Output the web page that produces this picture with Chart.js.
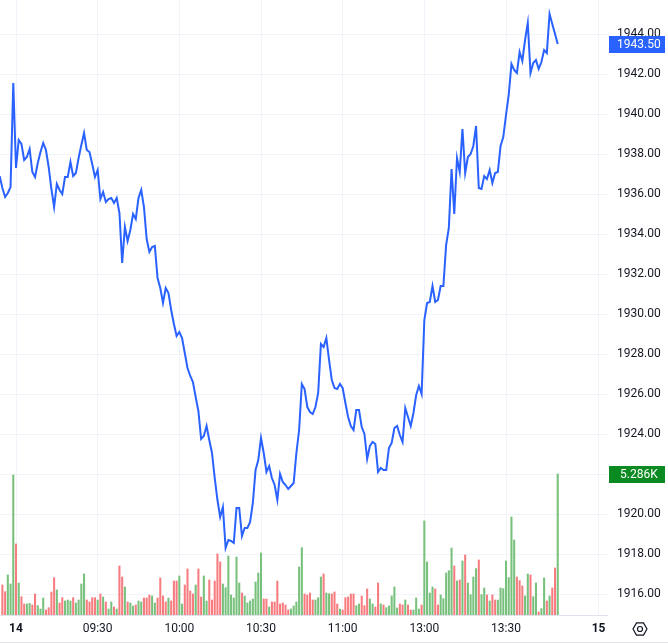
<!DOCTYPE html>
<html>
<head>
<meta charset="utf-8">
<script src="https://cdn.jsdelivr.net/npm/chart.js@4.4.1/dist/chart.umd.min.js"></script>
<style>
  html, body { margin: 0; padding: 0; background: #ffffff; }
  #wrap { width: 668px; height: 644px; position: relative; }
</style>
</head>
<body>
<div id="wrap"><canvas id="priceChart"></canvas></div>
<script>
// one value per minute bar
const prices = [
  1936.9, 1936.3, 1935.85, 1936.05, 1936.35, 1941.55, 1937.3, 1938.7, 1938.5, 1937.7,
  1937.85, 1938.25, 1937.1, 1936.85, 1937.55, 1938.1, 1938.55, 1938.2, 1937.35, 1936.25,
  1935.35, 1936.5, 1936.2, 1936.0, 1936.85, 1936.85, 1937.6, 1936.9, 1937.05, 1937.8,
  1938.45, 1939.05, 1938.2, 1938.1, 1937.5, 1936.85, 1937.2, 1935.75, 1936.1, 1935.6,
  1935.75, 1935.8, 1935.55, 1935.8, 1935.05, 1932.55, 1934.35, 1933.65, 1934.2, 1935.0,
  1934.75, 1935.8, 1936.2, 1935.35, 1933.75, 1933.1, 1933.35, 1933.4, 1931.8, 1931.3,
  1930.55, 1931.3, 1931.05, 1930.2, 1929.5, 1928.9, 1929.1, 1928.8, 1928.05, 1927.3,
  1926.9, 1926.6, 1925.85, 1925.15, 1923.75, 1923.9, 1924.4, 1923.7, 1923.05, 1921.8,
  1920.7, 1919.85, 1920.35, 1918.3, 1918.7, 1918.65, 1918.55, 1920.3, 1920.3, 1918.9,
  1919.3, 1919.3, 1919.6, 1920.55, 1922.2, 1922.7, 1923.8, 1923.05, 1922.1, 1922.4,
  1921.8, 1921.45, 1920.7, 1922.0, 1921.6, 1921.45, 1921.25, 1921.4, 1921.55, 1923.05,
  1924.2, 1926.5, 1926.25, 1925.35, 1925.1, 1925.0, 1925.35, 1926.05, 1928.5, 1928.35,
  1928.8, 1927.7, 1926.7, 1926.3, 1926.25, 1926.5, 1926.3, 1925.55, 1924.85, 1924.4,
  1924.2, 1925.2, 1925.2, 1924.35, 1924.0, 1922.75, 1923.4, 1923.6, 1923.5, 1922.1,
  1922.3, 1922.2, 1922.2, 1923.3, 1923.55, 1924.3, 1924.4, 1923.95, 1923.6, 1925.3,
  1924.85, 1924.4, 1925.05, 1925.95, 1926.4, 1926.0, 1929.7, 1930.55, 1930.6, 1931.4,
  1930.6, 1930.7, 1931.4, 1931.4, 1933.45, 1934.3, 1937.25, 1935.0, 1937.8, 1937.1,
  1939.25, 1937.05, 1937.85, 1938.0, 1938.4, 1939.4, 1936.3, 1936.25, 1936.9, 1936.75,
  1937.2, 1936.55, 1937.05, 1937.1, 1938.4, 1938.85, 1939.95, 1940.95, 1942.5, 1942.2,
  1942.05, 1943.1, 1942.65, 1943.7, 1944.55, 1942.05, 1942.55, 1942.7, 1942.25, 1942.6,
  1943.2, 1943.05, 1945.0, 1944.5, 1944.0, 1943.5
];

const volumes = [
  null, 1125, 875, 1500, 1163, 5250, 2663, 1200, 688, 413,
  413, 438, 375, 788, 350, 225, 638, 188, 275, 863,
  1400, 938, 450, 650, 525, 563, 525, 650, 450, 563,
  1163, 1538, 563, 488, 650, 650, 563, 788, 675, 488,
  225, 488, 300, 225, 1838, 1425, 1050, 488, 450, 338,
  375, 525, 488, 638, 638, 750, 713, 450, 638, 1388,
  713, 488, 638, 525, 1275, 1275, 1463, 413, 1125, 1725,
  900, 788, 1125, 1725, 675, 1463, 525, 1313, 563, 1275,
  2288, 1988, 1163, 1025, 2213, 750, 638, 2175, 1200, 825,
  713, 450, 525, 600, 1238, 1575, 2325, 600, 600, 300,
  488, 488, 1275, 413, 450, 375, 188, 225, 338, 488,
  1800, 2525, 788, 750, 825, 563, 563, 650, 1425, 1538,
  825, 800, 788, 863, 413, 225, 188, 650, 675, 788,
  788, 350, 413, 713, 350, 975, 600, 413, 300, 1200,
  413, 375, 275, 338, 713, 1050, 263, 413, 375, 563,
  375, 188, 188, 638, 225, 375, 3525, 1988, 825, 1050,
  975, 375, 750, 613, 1575, 1663, 2513, 1838, 1275, 1313,
  2025, 2250, 1200, 763, 1425, 1738, 2063, 763, 1013, 750,
  525, 750, 563, 563, 1013, 988, 2025, 1400, 3675, 2813,
  1425, 1288, 1088, 713, 1538, 1500, 688, 1200, 113, 238,
  1388, 525, 713, 1013, 1763, 5286
];

// 1 = green (up) bar, 0 = red (down) bar
const volumeUp = [
  0, 0, 0, 1, 1, 1, 0, 1, 0, 0,
  1, 1, 0, 0, 1, 1, 1, 0, 0, 0,
  0, 1, 0, 0, 1, 1, 1, 0, 1, 1,
  1, 1, 0, 0, 0, 0, 1, 0, 1, 0,
  1, 1, 0, 1, 0, 0, 1, 0, 1, 1,
  0, 1, 1, 0, 0, 0, 1, 1, 0, 0,
  0, 0, 1, 0, 0, 0, 1, 1, 0, 0,
  0, 0, 1, 0, 0, 1, 1, 0, 0, 0,
  0, 0, 1, 1, 1, 1, 1, 1, 1, 0,
  1, 1, 1, 1, 1, 1, 1, 0, 0, 1,
  0, 0, 0, 0, 0, 0, 0, 1, 1, 1,
  1, 1, 0, 0, 0, 0, 1, 1, 1, 0,
  1, 1, 0, 0, 0, 1, 0, 0, 0, 0,
  0, 1, 1, 0, 0, 0, 1, 1, 0, 0,
  1, 0, 1, 1, 1, 1, 1, 0, 0, 1,
  0, 0, 1, 1, 1, 0, 1, 1, 1, 1,
  0, 0, 1, 1, 1, 1, 1, 0, 1, 0,
  1, 0, 1, 1, 1, 1, 0, 1, 1, 0,
  1, 0, 0, 1, 1, 1, 1, 1, 1, 1,
  0, 0, 0, 1, 1, 0, 1, 1, 0, 1,
  1, 0, 1, 0, 0, 1
];

const timeTicks = [6, 36, 66, 96, 126, 156, 186, 220];
const timeLabels = ['14', '09:30', '10:00', '10:30', '11:00', '13:00', '13:30', '15'];
const boldLabels = ['14', '15'];
const priceTicks = [1916, 1918, 1920, 1922, 1924, 1926, 1928, 1930, 1932, 1934, 1936, 1938, 1940, 1942, 1944];

const LINE_BLUE = '#2962ff';
const VOL_GREEN = '#78c17d';
const VOL_RED = '#f77c80';
const GRID = '#f0f3fa';
const TEXT = '#131722';

const chartW = 607;   // plot right edge
const plotH = 615;    // plot bottom

function noPadding(axis) {
    axis.paddingTop = 0;
    axis.paddingBottom = 0;
    axis.paddingLeft = 0;
    axis.paddingRight = 0;
}

// overlay: last value tags, bottom border, settings icon
const overlay = {
    id: 'overlay',
    afterDraw(chart) {
        const c = chart.ctx;
        const yP = chart.scales.y;
        const yV = chart.scales.vol;
        const lastP = prices[prices.length - 1];
        const lastV = volumes[volumes.length - 1];

        c.save();
        c.font = '12px Roboto, "Liberation Sans", sans-serif';
        c.textBaseline = 'middle';
        c.textAlign = 'left';

        let py = yP.getPixelForValue(lastP);
        c.fillStyle = LINE_BLUE;
        c.fillRect(609, Math.round(py) - 8, 56, 17);
        c.fillStyle = '#ffffff';
        c.fillText(lastP.toFixed(2), 617, Math.round(py) + 0.5);

        let vy = yV.getPixelForValue(lastV);
        c.fillStyle = '#0a8a20';
        c.fillRect(609, Math.round(vy) - 8, 56, 17);
        c.fillStyle = '#ffffff';
        c.fillText((lastV / 1000).toFixed(3) + 'K', 620, Math.round(vy) + 0.5);

        // x axis line and bottom border
        c.strokeStyle = '#e0e3eb';
        c.lineWidth = 1;
        c.beginPath();
        c.moveTo(0, plotH + 0.5);
        c.lineTo(chartW + 1, plotH + 0.5);
        c.stroke();
        c.beginPath();
        c.moveTo(0, 642.5);
        c.lineTo(668, 642.5);
        c.stroke();

        // settings icon
        const cx = 640, cy = 629, r = 7;
        c.strokeStyle = TEXT;
        c.lineWidth = 1.2;
        c.beginPath();
        for (let k = 0; k < 6; k++) {
            const a = Math.PI / 3 * k;
            const px = cx + r * Math.cos(a), pyy = cy + r * Math.sin(a);
            if (k === 0) c.moveTo(px, pyy); else c.lineTo(px, pyy);
        }
        c.closePath();
        c.stroke();
        c.beginPath();
        c.arc(cx, cy, 2.5, 0, Math.PI * 2);
        c.stroke();
        c.restore();
    }
};

document.addEventListener('DOMContentLoaded', function() {
    const ctx = document.getElementById('priceChart').getContext('2d');
    new Chart(ctx, {
        type: 'bar',
        data: {
            datasets: [{
                type: 'line',
                label: 'Price',
                data: prices.map((p, i) => ({ x: i, y: p })),
                yAxisID: 'y',
                borderColor: LINE_BLUE,
                borderWidth: 2,
                pointRadius: 0,
                tension: 0,
                fill: false
            }, {
                type: 'bar',
                label: 'Volume',
                data: volumes.map((v, i) => ({ x: i, y: v })),
                yAxisID: 'vol',
                backgroundColor: volumeUp.map(u => u ? VOL_GREEN : VOL_RED),
                barThickness: 1.4,
                borderWidth: 0
            }]
        },
        options: {
            responsive: true,
            maintainAspectRatio: false,
            animation: false,
            layout: { padding: 0 },
            scales: {
                x: {
                    type: 'linear',
                    offset: false,
                    min: 0.122,
                    max: 223.1,
                    afterBuildTicks: axis => { axis.ticks = timeTicks.map(v => ({ value: v })); },
                    afterFit: axis => { axis.height = 644 - plotH; noPadding(axis); },
                    grid: { color: GRID, drawTicks: false, offset: false },
                    border: { display: false },
                    ticks: {
                        autoSkip: false,
                        maxRotation: 0,
                        padding: 7,
                        color: TEXT,
                        font: c => ({
                            family: 'Roboto, "Liberation Sans", sans-serif',
                            size: 12,
                            weight: boldLabels.includes(timeLabels[timeTicks.indexOf(c.tick && c.tick.value)]) ? 'bold' : 'normal'
                        }),
                        callback: v => {
                            const k = timeTicks.indexOf(v);
                            return k >= 0 ? timeLabels[k] : '';
                        }
                    }
                },
                y: {
                    position: 'right',
                    min: 1914.95,
                    max: 1945.7,
                    afterBuildTicks: axis => { axis.ticks = priceTicks.map(v => ({ value: v })); },
                    afterFit: axis => { axis.width = 668 - chartW; noPadding(axis); },
                    grid: { color: GRID, drawTicks: false },
                    border: { display: false },
                    ticks: {
                        padding: 10,
                        color: TEXT,
                        font: { family: 'Roboto, "Liberation Sans", sans-serif', size: 12 },
                        callback: v => v.toFixed(2)
                    }
                },
                vol: {
                    display: false,
                    min: 0,
                    max: 23055
                }
            },
            plugins: {
                legend: { display: false },
                tooltip: { enabled: false }
            }
        },
        plugins: [overlay]
    });
});
</script>
</body>
</html>
